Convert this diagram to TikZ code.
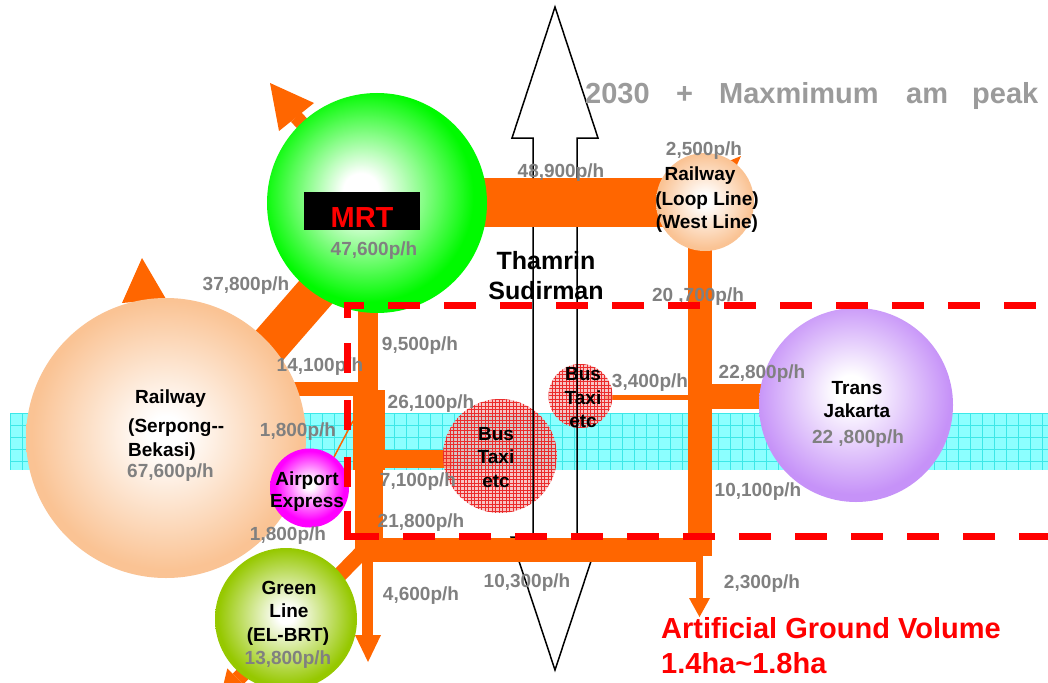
\documentclass[tikz,border=0pt]{standalone}
\usepackage{fontspec}
\setmainfont{Liberation Sans}
\definecolor{orng}{RGB}{255,102,0}
\definecolor{lblgray}{RGB}{128,128,128}
\definecolor{titlegray}{RGB}{155,155,155}
\definecolor{mrtg}{RGB}{0,250,0}
\definecolor{peach}{RGB}{250,195,148}
\definecolor{purp}{RGB}{198,146,248}
\definecolor{magn}{RGB}{255,0,255}
\definecolor{olivec}{RGB}{150,200,0}
\definecolor{bandfill}{RGB}{140,255,255}
\definecolor{bandline}{RGB}{60,232,232}
\definecolor{buspink}{RGB}{246,178,178}
\definecolor{busred}{RGB}{235,45,45}
\pgfdeclareradialshading{mrtsh}{\pgfpoint{-4bp}{3bp}}{color(0bp)=(white); color(4bp)=(white); color(24bp)=(mrtg); color(50bp)=(mrtg)}
\pgfdeclareradialshading{peachsh}{\pgfpoint{0bp}{1bp}}{color(0bp)=(white); color(3bp)=(white); color(24bp)=(peach); color(50bp)=(peach)}
\pgfdeclareradialshading{purpsh}{\pgfpoint{-1.5bp}{4bp}}{color(0bp)=(white); color(4bp)=(white); color(25bp)=(purp); color(50bp)=(purp)}
\pgfdeclareradialshading{magsh}{\pgfpoint{0bp}{2.5bp}}{color(0bp)=(white); color(3bp)=(white); color(22bp)=(magn); color(50bp)=(magn)}
\pgfdeclareradialshading{olivesh}{\pgfpoint{0bp}{1.5bp}}{color(0bp)=(white); color(3bp)=(white); color(24bp)=(olivec); color(50bp)=(olivec)}
\begin{document}
\begin{tikzpicture}[x=1pt,y=-1pt,
  bar/.style={draw=orng, line cap=butt},
  lbl/.style={font=\fontsize{19}{22}\selectfont\bfseries, text=lblgray, inner sep=0pt, anchor=base},
  blk/.style={font=\fontsize{19}{22}\selectfont\bfseries, text=black, inner sep=0pt, anchor=base},
  thm/.style={font=\fontsize{25}{30}\selectfont\bfseries, text=black, inner sep=0pt, anchor=base},
  big/.style={font=\fontsize{29}{34}\selectfont\bfseries, inner sep=0pt, anchor=base west},
  hub/.style={circle, inner sep=0pt, draw=none},
  busline/.style={draw=busred, line width=0.45pt},
  gridline/.style={draw=bandline, line width=0.7pt},
  outline/.style={draw=black, line width=1.5pt, line join=miter},
  dashred/.style={draw=red, line width=7pt, line join=miter}]
\useasboundingbox (0,0) rectangle (1048,682);
\fill[white] (0,0) rectangle (1048,682);
% cyan band
\fill[bandfill] (10,413) rectangle (1048,470);
\begin{scope}
\clip (10,413) rectangle (1048,470);
\foreach \gx in {10,22,...,1048} \draw[gridline] (\gx,413) -- (\gx,470);
\foreach \gy in {413,425,...,470} \draw[gridline] (10,\gy) -- (1048,\gy);
\end{scope}
% connector coordinates
\coordinate (dA) at (215.4,407.3); \coordinate (dB) at (340.3,264.1);
\coordinate (hA) at (280,389); \coordinate (hB) at (358,389);
\coordinate (vU1) at (368,295); \coordinate (vU2) at (368,392);
\coordinate (vM1) at (369,390); \coordinate (vM2) at (369,470);
\coordinate (vL1) at (369,468); \coordinate (vL2) at (369,545);
\coordinate (bA) at (383,459); \coordinate (bB) at (452,459);
\coordinate (aA) at (334,457); \coordinate (aB) at (353,421);
\coordinate (mA) at (470,202.5); \coordinate (mB) at (665,202.5);
\coordinate (rA) at (700,240); \coordinate (rB) at (700,556);
\coordinate (tA) at (712,396.5); \coordinate (tB) at (770,396.5);
\coordinate (sA) at (605,397.5); \coordinate (sB) at (688,397.5);
\coordinate (gA) at (362,552); \coordinate (gB) at (238,679);
\coordinate (uA) at (345,168); \coordinate (uB) at (296,117);
% orange bars beneath circles
\draw[bar, line width=40pt] (dA) -- (dB);
\draw[bar, line width=14pt] (hA) -- (hB);
\draw[bar, line width=20pt] (vU1) -- (vU2);
\draw[bar, line width=32pt] (vM1) -- (vM2);
\draw[bar, line width=28pt] (vL1) -- (vL2);
\draw[bar, line width=18pt] (bA) -- (bB);
\draw[orng, line width=1.5pt] (aA) -- (aB);
\draw[bar, line width=49pt] (mA) -- (mB);
\draw[bar, line width=24pt] (rA) -- (rB);
\draw[bar, line width=25pt] (tA) -- (tB);
\draw[bar, line width=5pt] (sA) -- (sB);
\draw[bar, line width=15pt] (gA) -- (gB);
\draw[bar, line width=14pt] (uA) -- (uB);
\fill[orng] (270,83) -- (314,103) -- (279,131) -- cycle;
\fill[orng] (142,258) -- (166,299) -- (122,303) -- cycle;
\fill[orng] (741,156) -- (729,161) -- (736,167) -- cycle;
\fill[orng] (248.7,689.5) -- (227.3,668.5) -- (220.5,696.9) -- cycle;
% circles
\node[hub, minimum size=280pt, shade, shading=peachsh] (rail) at (166,438) {};
\node[hub, minimum size=220pt, shade, shading=mrtsh] (mrt) at (377,203) {};
\node[hub, minimum size=98pt, shade, shading=peachsh] (loop) at (705,202) {};
\node[hub, minimum size=194pt, shade, shading=purpsh] (tj) at (856,405) {};
\node[hub, minimum size=79pt, shade, shading=magsh] (air) at (309.5,488) {};
\node[hub, minimum size=142pt, shade, shading=olivesh] (green) at (286,619) {};
\node[hub, minimum size=114pt, fill=buspink, fill opacity=0.75] (busA) at (500,456) {};
\begin{scope}
\clip (500,456) circle (57pt);
\foreach \k in {0,...,33} {
  \draw[busline] ({443+3.5*\k},399) -- ++(0,114);
  \draw[busline] (443,{399+3.5*\k}) -- ++(114,0);
}
\end{scope}
\node[hub, minimum size=64pt, fill=buspink, fill opacity=0.75] (busB) at (580.5,396) {};
\begin{scope}
\clip (580.5,396) circle (32pt);
\foreach \k in {0,...,19} {
  \draw[busline] ({548.5+3.5*\k},364) -- ++(0,64);
  \draw[busline] (548.5,{364+3.5*\k}) -- ++(64,0);
}
\end{scope}
% Thamrin-Sudirman double arrow outline
\draw[outline] (533,178) -- (533,138) -- (512,138) -- (555,7) -- (598,138) -- (577,138) -- (577,178);
\draw[outline] (533,227) -- (533,537) -- (511,537) -- (555,670) -- (599,537) -- (577,537) -- (577,227);
% bars over the arrow
\coordinate (wA) at (355,550); \coordinate (wB) at (696,550);
\coordinate (fA) at (367.5,560); \coordinate (fB) at (367.5,636);
\coordinate (kA) at (699.5,556); \coordinate (kB) at (699.5,599);
\draw[bar, line width=24pt] (wA) -- (wB);
\draw[bar, line width=11pt] (fA) -- (fB);
\fill[orng] (355,635) -- (381,635) -- (368,662) -- cycle;
\draw[bar, line width=7pt] (kA) -- (kB);
\fill[orng] (689,598) -- (710,598) -- (699.5,617) -- cycle;
% MRT label box
\node[fill=black, minimum width=116pt, minimum height=38pt, inner sep=0pt] (mrtbox) at (362,211) {};
% texts
\node[big, text=titlegray] (t1) at (585,103) {2030};
\node[big, text=titlegray] (t2) at (676,103) {+};
\node[big, text=titlegray] (t3) at (719,103) {Maxmimum};
\node[big, text=titlegray] (t4) at (906,103) {am};
\node[big, text=titlegray] (t5) at (972,103) {peak};
\node[font=\fontsize{29}{34}\selectfont\bfseries, text=red, inner sep=0pt, anchor=base] (mrtlbl) at (362,227) {MRT};
\node[lbl] (l1) at (374,255) {47,600p/h};
\node[lbl] (l2) at (246,290) {37,800p/h};
\node[lbl] (l3) at (561,177) {48,900p/h};
\node[lbl] (l4) at (704,155) {2,500p/h};
\node[blk] (c1) at (700,180) {Railway};
\node[blk] (c2) at (707,205.6) {(Loop Line)};
\node[blk] (c3) at (707,228) {(West Line)};
\node[thm] (th1) at (546,269) {Thamrin};
\node[thm] (th2) at (546,299) {Sudirman};
\node[lbl] (l5) at (698,301) {20 ,700p/h};
\node[lbl] (l6) at (420,350) {9,500p/h};
\node[lbl] (l7) at (320,371) {14,100p/h};
\node[lbl] (l8) at (431,408) {26,100p/h};
\node[lbl] (l9) at (298,436) {1,800p/h};
\node[lbl] (l10) at (288,540) {1,800p/h};
\node[lbl] (l11) at (418,486) {7,100p/h};
\node[lbl] (l12) at (421,527) {21,800p/h};
\node[lbl] (l13) at (650,387) {3,400p/h};
\node[lbl] (l14) at (762,378) {22,800p/h};
\node[lbl] (l15) at (758,496) {10,100p/h};
\node[lbl] (l16) at (858,443) {22 ,800p/h};
\node[blk] (c4) at (857,394) {Trans};
\node[blk] (c5) at (857,417) {Jakarta};
\node[lbl] (l17) at (421,600) {4,600p/h};
\node[lbl] (l18) at (527,587) {10,300p/h};
\node[lbl] (l19) at (762,588) {2,300p/h};
\node[big, text=red] (agv1) at (661,638) {Artificial Ground Volume};
\node[big, text=red] (agv2) at (661,673) {1.4ha\textasciitilde 1.8ha};
\node[blk] (c6) at (289,594) {Green};
\node[blk] (c7) at (289,617) {Line};
\node[blk] (c8) at (288,641) {(EL-BRT)};
\node[lbl] (l20) at (288,664) {13,800p/h};
\node[blk, anchor=base west] (c9) at (135,403) {Railway};
\node[blk, anchor=base west] (c10) at (128,432) {(Serpong-{}-};
\node[blk, anchor=base west] (c11) at (128,456) {Bekasi)};
\node[lbl, anchor=base west] (l21) at (127,477) {67,600p/h};
\node[blk] (c12) at (307,485) {Airport};
\node[blk] (c13) at (307,507) {Express};
\node[blk] (c14) at (496,440) {Bus};
\node[blk] (c15) at (496,463) {Taxi};
\node[blk] (c16) at (496,487) {etc};
\node[blk] (c17) at (583,380) {Bus};
\node[blk] (c18) at (583,404) {Taxi};
\node[blk] (c19) at (583,427) {etc};
% red dashed area
\draw[dashred] (347,318) -- (347,305) -- (364,305);
\draw[dashred, dash pattern=on 32pt off 24pt] (388,305) -- (1060,305);
\draw[dashred, dash pattern=on 30pt off 27pt] (347,343) -- (347,511);
\draw[dashred] (347,511) -- (347,536) -- (379,536);
\draw[dashred, dash pattern=on 32pt off 24pt] (403,536) -- (1060,536);
\end{tikzpicture}
\end{document}
